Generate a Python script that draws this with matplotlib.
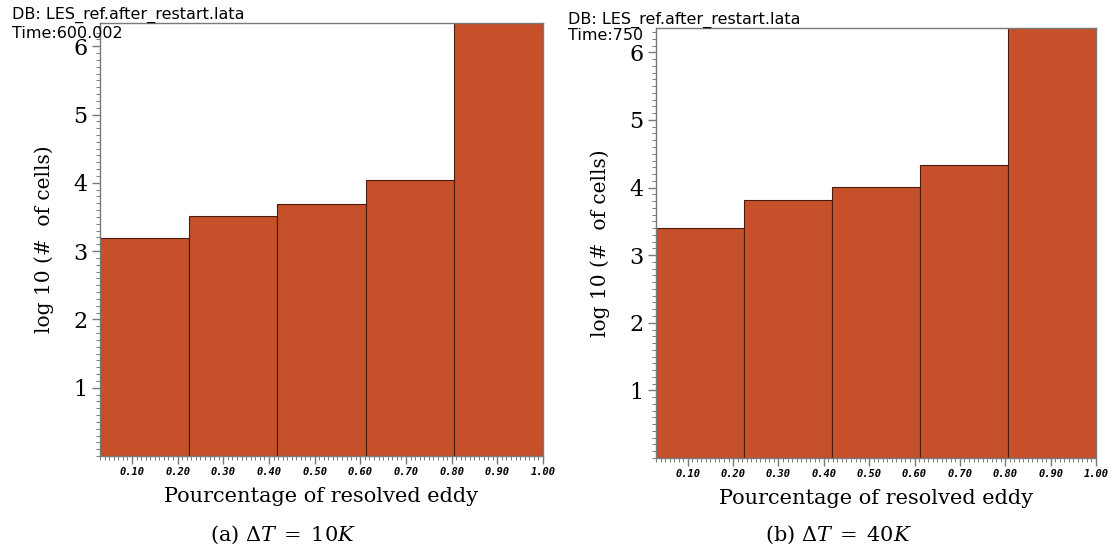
import matplotlib
matplotlib.use('Agg')
import matplotlib.pyplot as plt
from matplotlib.ticker import MultipleLocator, FormatStrFormatter

plt.rcParams['mathtext.fontset'] = 'dejavuserif'

# histogram data (log10 of cell counts per bin)
bin_edges = [0.03, 0.224, 0.418, 0.612, 0.806, 1.0]
heights_a = [3.19, 3.51, 3.69, 4.04, 6.34]
heights_b = [3.40, 3.81, 4.01, 4.34, 6.36]
times = ['600.002', '750']
captions = [r'(a) $\Delta T\;=\;10K$', r'(b) $\Delta T\;=\;40K$']
db_name = 'DB: LES_ref.after_restart.lata'

bar_col = '#c5502a'
edge_col = '#4a1a0c'
axis_col = '#7a7a7a'
serif = 'DejaVu Serif'

W, H = 1112, 549
fig = plt.figure(figsize=(W / 100, H / 100), dpi=100)
boxes = [[0.0899, 0.1694, 0.3984, 0.7887], [0.5899, 0.1658, 0.3957, 0.7832]]
cap_x = [283, 838]
hdr = [(12, 15, 33), (568, 20, 36)]

for box, hts, t, cap, cx, (hx, hy1, hy2) in zip(boxes, [heights_a, heights_b], times,
                                                 captions, cap_x, hdr):
    ax = fig.add_axes(box)
    widths = [bin_edges[i+1] - bin_edges[i] for i in range(len(hts))]
    ax.bar(bin_edges[:-1], hts, width=widths, align='edge', color=bar_col,
           edgecolor=edge_col, linewidth=0.8)
    ax.set_xlim(bin_edges[0], bin_edges[-1])
    ax.set_ylim(0, max(hts))
    ax.xaxis.set_major_locator(MultipleLocator(0.1))
    ax.xaxis.set_minor_locator(MultipleLocator(0.01))
    ax.xaxis.set_major_formatter(FormatStrFormatter('%.2f'))
    ax.set_yticks([1, 2, 3, 4, 5, 6])
    ax.yaxis.set_minor_locator(MultipleLocator(0.1))
    for sp in ax.spines.values():
        sp.set_color(axis_col)
        sp.set_linewidth(1.0)
    ax.tick_params(axis='both', which='both', direction='out', color=axis_col)
    ax.tick_params(axis='both', which='major', length=6, width=1)
    ax.tick_params(axis='both', which='minor', length=3, width=0.7)
    ax.tick_params(axis='x', labelsize=7.5, pad=2)
    ax.tick_params(axis='y', labelsize=16, pad=3)
    for lb in ax.get_xticklabels():
        lb.set_family('DejaVu Sans Mono')
        lb.set_style('oblique')
        lb.set_weight('bold')
    for lb in ax.get_yticklabels():
        lb.set_family(serif)
    ax.set_xlabel('Pourcentage of resolved eddy', fontsize=15, family=serif, labelpad=7)
    ax.set_ylabel('log 10 (#  of cells)', fontsize=14.5, family=serif, labelpad=14)
    fig.text(cx / W, 1 - 535 / H, cap, ha='center', va='center', fontsize=15, family=serif)
    fig.text(hx / W, 1 - hy1 / H, db_name, ha='left', va='center',
             fontsize=11.5, family='DejaVu Sans')
    fig.text(hx / W, 1 - hy2 / H, 'Time:' + t, ha='left', va='center',
             fontsize=11.5, family='DejaVu Sans')

plt.savefig('out.png', dpi=100, facecolor='white')
plt.close()
